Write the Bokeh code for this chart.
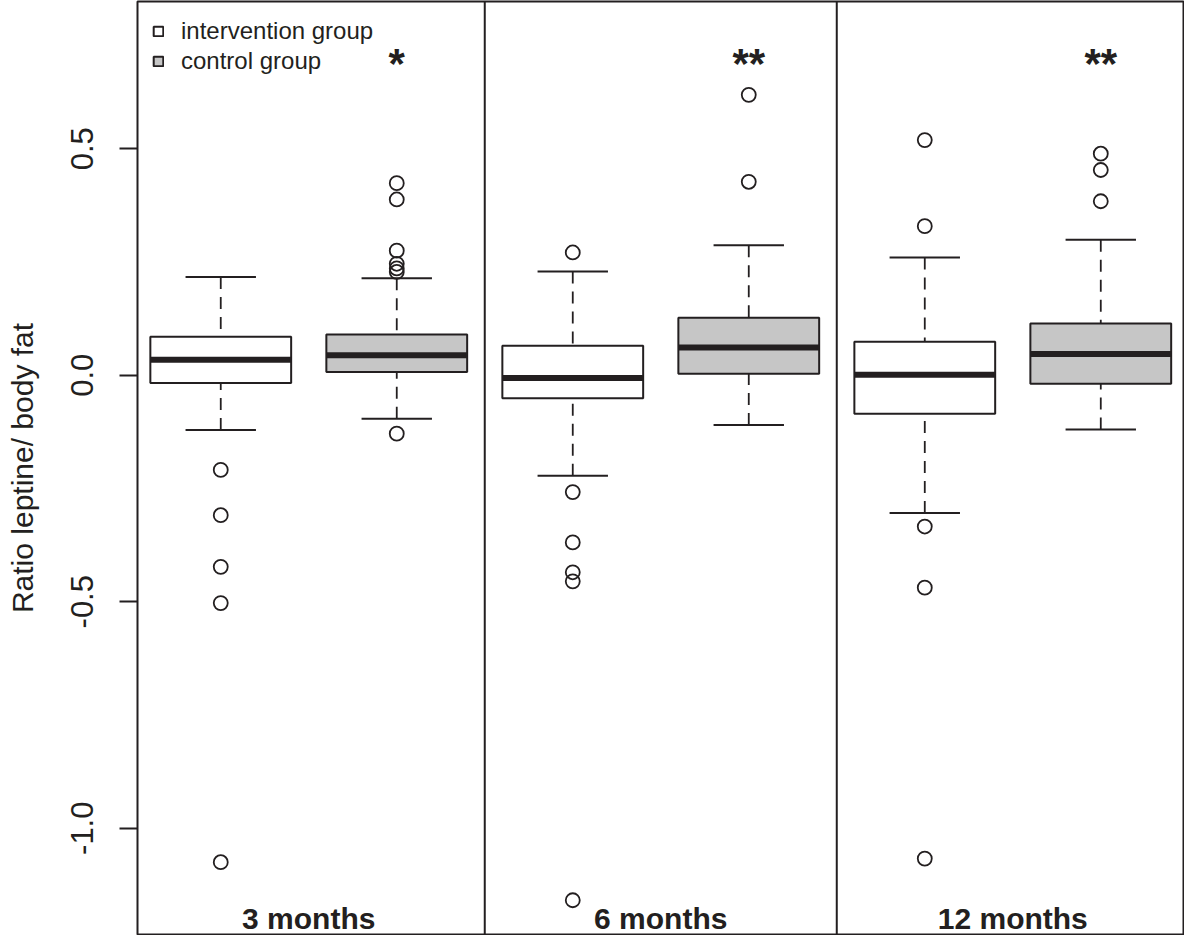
import math
from bokeh.plotting import figure
from bokeh.models import (ColumnDataSource, Range1d, FixedTicker, PrintfTickFormatter,
                          Span, Legend, LegendItem)
from bokeh.core.properties import value
from bokeh.embed import file_html
from bokeh.resources import INLINE

# ---------------- data ----------------
months = ["3 months", "6 months", "12 months"]
groups = ["intervention group", "control group"]
significance = ["*", "**", "**"]

# box order: 3m intervention, 3m control, 6m intervention, 6m control, 12m intervention, 12m control
lower_whisker = [-0.121, -0.096, -0.222, -0.110, -0.304, -0.120]
q1 = [-0.017, 0.007, -0.051, 0.003, -0.085, -0.019]
median = [0.034, 0.044, -0.006, 0.061, 0.001, 0.047]
q3 = [0.085, 0.090, 0.065, 0.127, 0.074, 0.114]
upper_whisker = [0.217, 0.214, 0.229, 0.287, 0.260, 0.299]
outliers = [
    [-0.209, -0.309, -0.423, -0.503, -1.075],
    [0.424, 0.388, 0.275, 0.246, 0.236, 0.228, -0.129],
    [0.271, -0.258, -0.369, -0.435, -0.455, -1.159],
    [0.619, 0.427],
    [0.519, 0.329, -0.334, -0.469, -1.067],
    [0.489, 0.453, 0.384],
]
tick_values = [-1.0, -0.5, 0.0, 0.5]
y_label = "Ratio leptine/ body fat"

# ---------------- style ----------------
INK = "#231f20"
FONT = "Liberation Sans"
FILLS = ["white", "#c6c6c6"]
BOX_W = 0.8
CAP_W = 0.4

positions = [i + 1 for i in range(len(median))]

p = figure(width=1184, height=935, output_backend="svg", toolbar_location=None, tools="",
           x_range=Range1d(0.527, 6.47), y_range=Range1d(-1.2346, 0.825),
           x_axis_location=None,
           min_border_left=137, min_border_right=1, min_border_top=1, min_border_bottom=1)
p.grid.visible = False
p.outline_line_color = INK
p.outline_line_width = 2
p.background_fill_color = "white"
p.border_fill_color = "white"

def src_for(idx):
    xs = [positions[i] for i in idx]
    return ColumnDataSource(dict(
        x=xs,
        q1=[q1[i] for i in idx], q3=[q3[i] for i in idx], med=[median[i] for i in idx],
        lw=[lower_whisker[i] for i in idx], uw=[upper_whisker[i] for i in idx],
        xl=[x - BOX_W / 2 for x in xs], xr=[x + BOX_W / 2 for x in xs],
        cl=[x - CAP_W / 2 for x in xs], cr=[x + CAP_W / 2 for x in xs],
    ))

box_renderers = []
for g in range(2):
    idx = list(range(g, len(median), 2))
    s = src_for(idx)
    # whiskers (dashed, drawn from whisker end toward box)
    p.segment(x0="x", y0="uw", x1="x", y1="q3", source=s, line_color=INK, line_width=1.8,
              line_dash="12 8")
    p.segment(x0="x", y0="lw", x1="x", y1="q1", source=s, line_color=INK, line_width=1.8,
              line_dash="12 8")
    # caps
    p.segment(x0="cl", y0="uw", x1="cr", y1="uw", source=s, line_color=INK, line_width=2)
    p.segment(x0="cl", y0="lw", x1="cr", y1="lw", source=s, line_color=INK, line_width=2)
    # boxes
    r = p.vbar(x="x", bottom="q1", top="q3", width=BOX_W, source=s, fill_color=FILLS[g],
               line_color=INK, line_width=2)
    box_renderers.append(r)
    # median
    p.segment(x0="xl", y0="med", x1="xr", y1="med", source=s, line_color=INK, line_width=6,
              line_cap="butt")

# outliers
ox, oy = [], []
for i, vals in enumerate(outliers):
    for v in vals:
        ox.append(positions[i])
        oy.append(v)
p.scatter(x=ox, y=oy, size=14, marker="circle", fill_color=None, line_color=INK, line_width=1.8)

# panel separators
for k in range(1, len(months)):
    sep = (positions[2 * k - 1] + positions[2 * k]) / 2
    p.add_layout(Span(location=sep, dimension="height", line_color=INK, line_width=2))

# month labels at the bottom of each panel
mx = [(positions[2 * k] + positions[2 * k + 1]) / 2 for k in range(len(months))]
p.text(x=mx, y=[p.y_range.start] * len(months), text=months, text_font=value(FONT),
       text_font_style="bold", text_font_size="30px", text_align="center",
       text_baseline="alphabetic", y_offset=-16, text_color=INK)

# significance stars above control boxes
sx = [positions[2 * k + 1] for k in range(len(months))]
p.text(x=sx, y=[p.y_range.end] * len(months), text=significance, text_font=value(FONT),
       text_font_style="bold", text_font_size="42px", text_align="center",
       text_baseline="alphabetic", y_offset=62, text_color=INK)

# legend
legend = Legend(items=[LegendItem(label=value(groups[0]), renderers=[box_renderers[0]]),
                       LegendItem(label=value(groups[1]), renderers=[box_renderers[1]])],
                location="top_left", margin=0, padding=15, spacing=0, label_height=30,
                glyph_height=12, glyph_width=12, label_standoff=17,
                border_line_alpha=0, background_fill_alpha=0,
                label_text_font=FONT, label_text_font_size="24px", label_text_color=INK)
p.add_layout(legend)

# y axis
ax = p.yaxis[0]
ax.ticker = FixedTicker(ticks=tick_values)
ax.formatter = PrintfTickFormatter(format="%.1f")
ax.major_tick_out = 18
ax.major_tick_in = 0
ax.minor_tick_out = 0
ax.minor_tick_in = 0
ax.axis_line_color = None
ax.major_tick_line_color = INK
ax.major_tick_line_width = 2
ax.major_label_orientation = "parallel"
ax.major_label_text_font = FONT
ax.major_label_text_font_size = "31px"
ax.major_label_text_color = INK
ax.major_label_standoff = 26
ax.axis_label = y_label
ax.axis_label_text_font = FONT
ax.axis_label_text_font_size = "30px"
ax.axis_label_text_font_style = "normal"
ax.axis_label_text_color = INK
ax.axis_label_standoff = 30

open("out.html", "w").write(file_html(p, INLINE))
